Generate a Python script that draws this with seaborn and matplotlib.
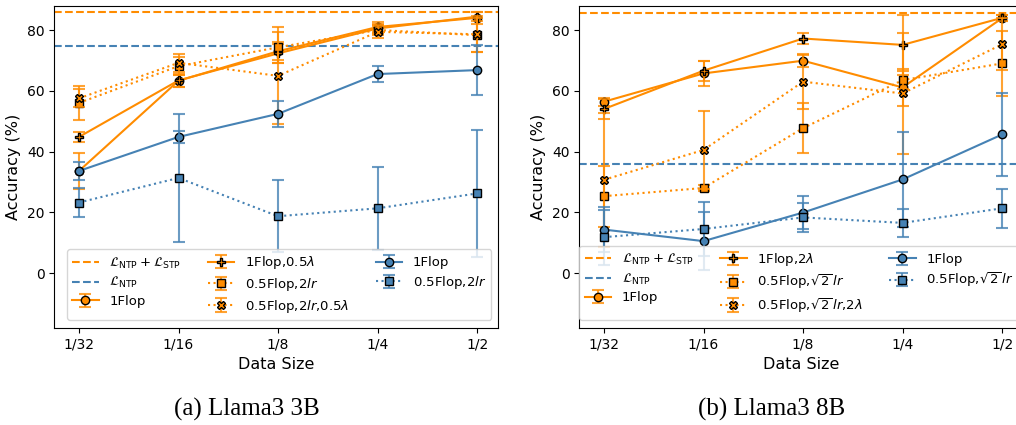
import numpy as np
import matplotlib
matplotlib.use("Agg")
import matplotlib.pyplot as plt
from matplotlib.legend_handler import HandlerTuple
import seaborn as sns

# ---------------- data ----------------
x_labels = ['1/32', '1/16', '1/8', '1/4', '1/2']

# Llama3 3B
ref_ntp_stp_3b = 86.0
ref_ntp_3b = 74.6
o_1flop_3b = [33.6, 63.3, 73.0, 81.0, 84.0]
o_1flop_3b_err = [6.0, 2.0, 3.0, 1.5, 2.0]
o_var_3b = [44.8, 63.4, 72.3, 80.5, 84.4]
o_var_3b_err = [1.6, 2.0, 3.0, 1.5, 1.5]
o_sq_3b = [56.0, 68.1, 74.3, 80.0, 78.3]
o_sq_3b_err = [5.6, 3.0, 5.0, 1.5, 5.5]
o_x_3b = [57.5, 69.2, 64.9, 79.4, 78.6]
o_x_3b_err = [3.0, 3.0, 16.0, 2.0, 6.0]
b_1flop_3b = [33.6, 44.8, 52.4, 65.5, 66.8]
b_1flop_3b_err = [3.0, 2.0, 4.3, 2.7, 8.2]
b_sq_3b = [23.2, 31.3, 18.7, 21.3, 26.2]
b_sq_3b_err = [4.7, 21.0, 11.8, 13.7, 21.0]

# Llama3 8B
ref_ntp_stp_8b = 85.7
ref_ntp_8b = 35.9
o_1flop_8b = [56.4, 65.7, 69.9, 61.1, 83.9]
o_1flop_8b_err = [1.3, 4.0, 2.0, 6.0, 1.0]
o_var_8b = [54.0, 66.6, 77.2, 75.1, 84.0]
o_var_8b_err = [3.4, 3.3, 1.7, 10.0, 1.0]
o_sq_8b = [25.3, 28.0, 47.7, 63.5, 69.0]
o_sq_8b_err = [10.0, 1.0, 8.2, 3.0, 10.7]
o_x_8b = [30.7, 40.5, 63.0, 59.1, 75.3]
o_x_8b_err = [22.0, 13.0, 9.0, 20.0, 8.5]
b_1flop_8b = [14.3, 10.5, 19.9, 30.8, 45.6]
b_1flop_8b_err = [7.5, 9.6, 5.4, 15.5, 13.7]
b_sq_8b = [11.8, 14.5, 18.3, 16.5, 21.3]
b_sq_8b_err = [9.0, 9.0, 4.8, 4.5, 6.4]

labels_3b = [r'$\mathcal{L}_{\rm NTP}+\mathcal{L}_{\rm STP}$', r'$\mathcal{L}_{\rm NTP}$',
             '1Flop', r'1Flop,0.5$\lambda$', r'0.5Flop,2$lr$', r'0.5Flop,2$lr$,0.5$\lambda$',
             '1Flop', r'0.5Flop,2$lr$']
labels_8b = [r'$\mathcal{L}_{\rm NTP}+\mathcal{L}_{\rm STP}$', r'$\mathcal{L}_{\rm NTP}$',
             '1Flop', r'1Flop,2$\lambda$', r'0.5Flop,$\sqrt{2}\,lr$', r'0.5Flop,$\sqrt{2}\,lr$,2$\lambda$',
             '1Flop', r'0.5Flop,$\sqrt{2}\,lr$']

ORANGE = '#ff8c00'
BLUE = '#4682b4'

W, H = 1016, 425
fig = plt.figure(figsize=(W / 100, H / 100), dpi=100)

def px_axes(left, top, width, height):
    return fig.add_axes([left / W, (H - top - height) / H, width / W, height / H])

ax1 = px_axes(54.3, 5.7, 443.7, 322)
ax2 = px_axes(579.3, 5.7, 443.7, 322)

xs = np.arange(len(x_labels))

def series(ax, vals, errs, color, marker, ls):
    eb = ax.errorbar(xs, vals, yerr=errs, fmt='none', ecolor=color, elinewidth=1.5,
                     capsize=4, capthick=1.5, alpha=0.8)
    sns.lineplot(x=xs, y=vals, ax=ax, color=color, marker=marker, linestyle=ls,
                 linewidth=1.5, markersize=6, markeredgecolor='black',
                 markeredgewidth=1.0, errorbar=None)
    line = ax.lines[-1]
    return (eb, line)

def panel(ax, ref1, ref2, data, labels, legend_anchor):
    h1 = ax.axhline(ref1, color=ORANGE, linestyle='--', linewidth=1.5)
    h2 = ax.axhline(ref2, color=BLUE, linestyle='--', linewidth=1.5)
    handles = [h1, h2]
    for vals, errs, color, marker, ls in data:
        handles.append(series(ax, vals, errs, color, marker, ls))
    ax.set_xlim(-0.248, 4.21)
    ax.set_ylim(-18, 88)
    ax.set_xticks(xs)
    ax.set_xticklabels(x_labels, fontsize=10)
    ax.set_yticks([0, 20, 40, 60, 80])
    ax.tick_params(axis='y', labelsize=10)
    ax.set_xlabel('Data Size', fontsize=11.5)
    ax.set_ylabel('Accuracy (%)', fontsize=11.5)
    ax.legend(handles, labels, ncol=3, loc='lower left', bbox_to_anchor=legend_anchor,
              borderaxespad=0, fontsize=9.5, labelspacing=0.35,
              handler_map={tuple: HandlerTuple(ndivide=1)})

panel(ax1, ref_ntp_stp_3b, ref_ntp_3b, [
    (o_1flop_3b, o_1flop_3b_err, ORANGE, 'o', '-'),
    (o_var_3b, o_var_3b_err, ORANGE, 'P', '-'),
    (o_sq_3b, o_sq_3b_err, ORANGE, 's', ':'),
    (o_x_3b, o_x_3b_err, ORANGE, 'X', ':'),
    (b_1flop_3b, b_1flop_3b_err, BLUE, 'o', '-'),
    (b_sq_3b, b_sq_3b_err, BLUE, 's', ':'),
], labels_3b, (0.0286, 0.024))

panel(ax2, ref_ntp_stp_8b, ref_ntp_8b, [
    (o_1flop_8b, o_1flop_8b_err, ORANGE, 'o', '-'),
    (o_var_8b, o_var_8b_err, ORANGE, 'P', '-'),
    (o_sq_8b, o_sq_8b_err, ORANGE, 's', ':'),
    (o_x_8b, o_x_8b_err, ORANGE, 'X', ':'),
    (b_1flop_8b, b_1flop_8b_err, BLUE, 'o', '-'),
    (b_sq_8b, b_sq_8b_err, BLUE, 's', ':'),
], labels_8b, (0.0, 0.024))

fig.text(246.6 / W, 1 - 409 / H, '(a) Llama3 3B', ha='center', va='center',
         family='Liberation Serif', fontsize=18)
fig.text(772 / W, 1 - 409 / H, '(b) Llama3 8B', ha='center', va='center',
         family='Liberation Serif', fontsize=18)

fig.savefig('out.png', dpi=100)
